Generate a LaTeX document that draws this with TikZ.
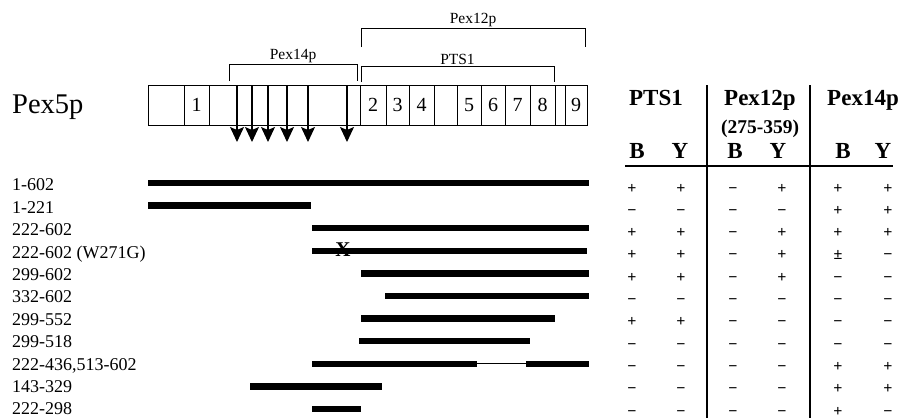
\documentclass[tikz,border=0pt]{standalone}
\usepackage{fontspec}
\setmainfont{Liberation Serif}
\usepackage{tikz}
\usetikzlibrary{arrows.meta}

\begin{document}
\begin{tikzpicture}[x=1pt,y=-1pt,line join=miter,
                    >={Stealth[length=15pt,width=14pt,inset=3pt]}]
  \tikzstyle{cell}=[draw,line width=1pt,inner sep=0pt,minimum height=40pt,font=\fontsize{20}{20}\selectfont]
  \tikzstyle{bracket}=[line width=0.9pt]
  \tikzstyle{brlabel}=[anchor=south,inner sep=1pt,font=\fontsize{15.5}{15.5}\selectfont]
  \tikzstyle{cut}=[->,line width=1.3pt]
  \tikzstyle{bar}=[line width=6.5pt]
  \tikzstyle{linker}=[line width=1pt]
  \tikzstyle{rowlabel}=[anchor=base west,inner sep=0pt,font=\fontsize{18}{18}\selectfont]
  \tikzstyle{head}=[anchor=base,inner sep=0pt,font=\fontsize{23}{23}\selectfont\bfseries]
  \tikzstyle{sign}=[anchor=base,inner sep=0pt,font=\fontsize{16}{16}\selectfont\bfseries]
  \tikzstyle{rule}=[line width=1.3pt]

  \useasboundingbox (0,0) rectangle (902,418);

  \node[anchor=base west,inner sep=0pt,font=\fontsize{28.5}{28.5}\selectfont] (pex5p) at (12,113) {Pex5p};

  % domain boxes
  \foreach \xa/\xb/\lab [count=\i] in {148/184/,184/209/1,209/360/,360/386/2,386/409/3,409/434/4,
      434/457/,457/481/5,481/505/6,505/530/7,530/555/8,555/565/,565/587/9}
    \node[cell,minimum width={(\xb-\xa)*1pt}] (d\i) at ({(\xa+\xb)/2},105) {\lab};

  % cleavage sites
  \foreach \x in {237,252,268,287,308,347}
    \draw[cut] (\x,85) -- (\x,142);

  % binding regions
  \draw[bracket] (229,81) |- (357,64) node[brlabel,pos=0.75] (b14) {Pex14p} -- (357,81);
  \draw[bracket] (361,47) |- (585,28) node[brlabel,pos=0.75] (b12) {Pex12p} -- (585,47);
  \draw[bracket] (361,82) |- (554,66) node[brlabel,pos=0.75] (bpts) {PTS1} -- (554,82);

  % constructs
  \foreach \lab [count=\i from 0] in {1-602,1-221,222-602,222-602 (W271G),299-602,332-602,
      299-552,299-518,{222-436,513-602},143-329,222-298}
    \node[rowlabel] (row\i) at (12,{190.9+22.4*\i}) {\lab};

  \foreach \xa/\xb [count=\i from 0] in {148/589,148/311,312/589,312/587,361/589,385/589,
      361/555,359/530,312/477,250/382,312/361}
    \draw[bar] (\xa,{183+22.6*\i}) -- (\xb,{183+22.6*\i});
  \draw[linker] (477,363.8) -- (526,363.8);
  \draw[bar] (526,363.8) -- (589,363.8);
  \node[inner sep=0pt,font=\fontsize{21}{21}\selectfont\bfseries] (mut) at (343,250) {X};

  % table
  \node[head] (hpts) at (656,105.5) {PTS1};
  \node[head] (h12) at (760,105.5) {Pex12p};
  \node[head,font=\fontsize{19.5}{19.5}\selectfont\bfseries] (h12r) at (760,133.6) {(275-359)};
  \node[head] (h14) at (863,105.5) {Pex14p};
  \foreach \x/\t [count=\i] in {637/B,680/Y,735/B,778/Y,843/B,883/Y}
    \node[head] (by\i) at (\x,158.6) {\t};

  \draw[rule] (707,85) -- (707,418);
  \draw[rule] (810,85) -- (810,418);
  \draw[rule] (625,166) -- (893,166);

  \foreach \vals [count=\j from 0] in {{+,+,−,+,+,+},{−,−,−,−,+,+},{+,+,−,+,+,+},{+,+,−,+,±,−},
      {+,+,−,+,−,−},{−,−,−,−,−,−},{+,+,−,−,−,−},{−,−,−,−,−,−},{−,−,−,−,+,+},{−,−,−,−,+,+},
      {−,−,−,−,+,−}}
    \foreach \s [count=\k from 0] in \vals {
      \pgfmathsetmacro{\cx}{{632,681,733,782,838,888}[\k]}
      \node[sign] (s\j-\k) at (\cx,{193+22.3*\j}) {\s};
    }
\end{tikzpicture}
\end{document}
